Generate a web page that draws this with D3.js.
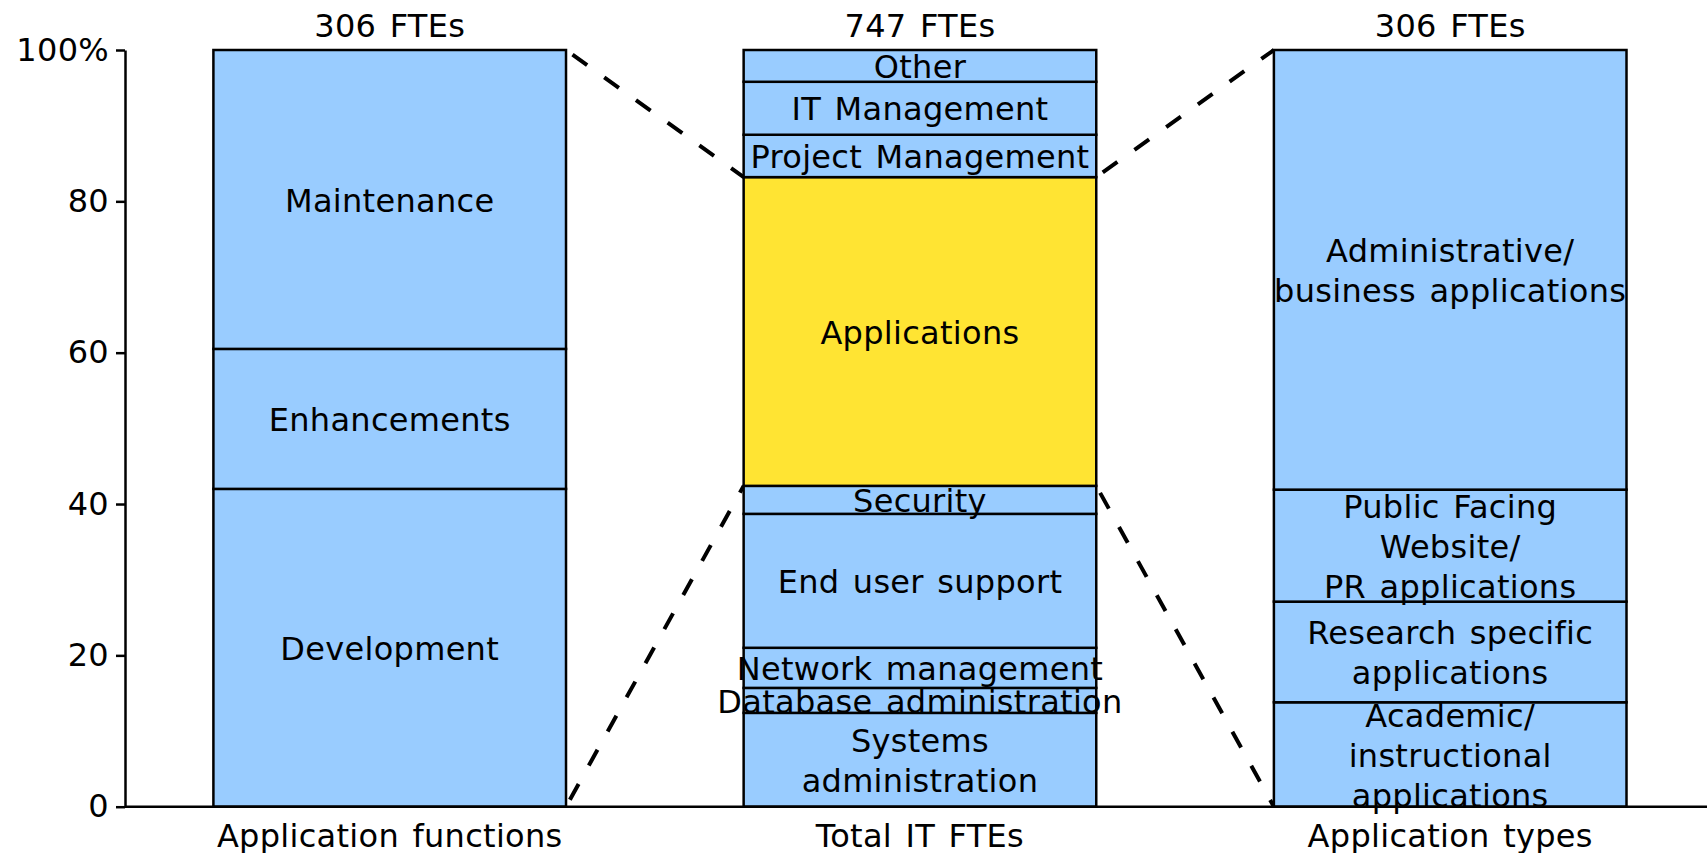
<!DOCTYPE html>
<html>
<head>
<meta charset="utf-8">
<script src="https://cdn.jsdelivr.net/npm/d3@7"></script>
<style>
  html, body { margin: 0; padding: 0; background: #fff; }
  svg { display: block; font-family: "DejaVu Sans", Verdana, sans-serif; letter-spacing: 0.3px; word-spacing: 3px; }
</style>
</head>
<body>
<svg id="chart" width="1707" height="853"></svg>
<script>
// bars, bottom to top, values in % of each bar
const barNames = ['Application functions', 'Total IT FTEs', 'Application types'];
const barTotals = ['306 FTEs', '747 FTEs', '306 FTEs'];

const functionLabels = ['Development', 'Enhancements', 'Maintenance'];
const functionValues = [42.0, 18.5, 39.5];

const totalLabels = ['Systems\nadministration', 'Database administration', 'Network management',
  'End user support', 'Security', 'Applications', 'Project Management', 'IT Management', 'Other'];
const totalValues = [12.4, 3.3, 5.3, 17.7, 3.7, 40.8, 5.6, 7.0, 4.2];

const typeLabels = ['Academic/\ninstructional\napplications', 'Research specific\napplications',
  'Public Facing\nWebsite/\nPR applications', 'Administrative/\nbusiness applications'];
const typeValues = [13.8, 13.3, 14.8, 58.1];

const yTicks = [0, 20, 40, 60, 80, 100];
const highlight = 'Applications';

const blue = '#99ccff', yellow = '#ffe433';
const fontSize = 32;

const svg = d3.select('#chart');
const width = 1707;
const axisX = 125;

const y = d3.scaleLinear().domain([0, 100]).range([806.7, 50]);
const x = d3.scaleBand().domain(barNames).range([213.4, 1626.5]).paddingInner(0.335).paddingOuter(0);

// build segments with cumulative starts
function segments(bar, labels, values) {
  const ends = Array.from(d3.cumsum(values));
  return labels.map((label, i) => ({ bar, label, y0: i ? ends[i - 1] : 0, y1: ends[i] }));
}
const bars = [
  segments(barNames[0], functionLabels, functionValues),
  segments(barNames[1], totalLabels, totalValues),
  segments(barNames[2], typeLabels, typeValues)
];
const allSegs = bars.flat();

// dashed connectors between the Applications slice and the side bars
const app = bars[1].find(d => d.label === highlight);
const connectors = [
  [x(barNames[0]) + x.bandwidth(), 100, x(barNames[1]), app.y1],
  [x(barNames[0]) + x.bandwidth(), 0, x(barNames[1]), app.y0],
  [x(barNames[1]) + x.bandwidth(), app.y1, x(barNames[2]), 100],
  [x(barNames[1]) + x.bandwidth(), app.y0, x(barNames[2]), 0]
];
svg.append('g').selectAll('line')
  .data(connectors)
  .join('line')
  .attr('x1', d => d[0]).attr('y1', d => y(d[1]))
  .attr('x2', d => d[2]).attr('y2', d => y(d[3]))
  .attr('stroke', '#000').attr('stroke-width', 4)
  .attr('stroke-dasharray', '18,21')
  .attr('stroke-dashoffset', -8);

// segments
svg.append('g').selectAll('rect')
  .data(allSegs)
  .join('rect')
  .attr('x', d => x(d.bar))
  .attr('width', x.bandwidth())
  .attr('y', d => y(d.y1))
  .attr('height', d => y(d.y0) - y(d.y1))
  .attr('fill', d => d.label === highlight ? yellow : blue)
  .attr('stroke', '#000').attr('stroke-width', 2.5);

// segment labels
const lineH = 40;
svg.append('g').selectAll('text')
  .data(allSegs)
  .join('text')
  .attr('text-anchor', 'middle')
  .attr('font-size', fontSize)
  .attr('fill', '#000')
  .each(function (d) {
    const lines = d.label.split('\n');
    const cy = (y(d.y0) + y(d.y1)) / 2;
    const cx = x(d.bar) + x.bandwidth() / 2;
    d3.select(this).selectAll('tspan')
      .data(lines)
      .join('tspan')
      .attr('x', cx)
      .attr('y', (l, i) => cy + (i - (lines.length - 1) / 2) * lineH + fontSize * 0.38)
      .text(l => l);
  });

// totals above bars
svg.append('g').selectAll('text')
  .data(barNames)
  .join('text')
  .attr('x', d => x(d) + x.bandwidth() / 2)
  .attr('y', 37)
  .attr('text-anchor', 'middle')
  .attr('font-size', fontSize)
  .text((d, i) => barTotals[i]);

// y axis
const yAxis = d3.axisLeft(y)
  .tickValues(yTicks)
  .tickSize(9)
  .tickSizeOuter(0)
  .tickPadding(7)
  .tickFormat(d => d === 100 ? '100%' : d);
const gy = svg.append('g').attr('transform', `translate(${axisX},0)`).call(yAxis);
gy.selectAll('text').attr('font-size', fontSize).attr('font-family', 'DejaVu Sans').attr('fill', '#000');
gy.selectAll('line, path').attr('stroke', '#000').attr('stroke-width', 2.5);

// x axis baseline runs to the right edge
svg.append('line')
  .attr('x1', axisX).attr('x2', width)
  .attr('y1', y(0)).attr('y2', y(0))
  .attr('stroke', '#000').attr('stroke-width', 2.5);

const xAxis = d3.axisBottom(x).tickSize(0).tickPadding(18);
const gx = svg.append('g').attr('transform', `translate(0,${y(0)})`).call(xAxis);
gx.select('.domain').remove();
gx.selectAll('text').attr('font-size', fontSize).attr('font-family', 'DejaVu Sans').attr('fill', '#000');
</script>
</body>
</html>
